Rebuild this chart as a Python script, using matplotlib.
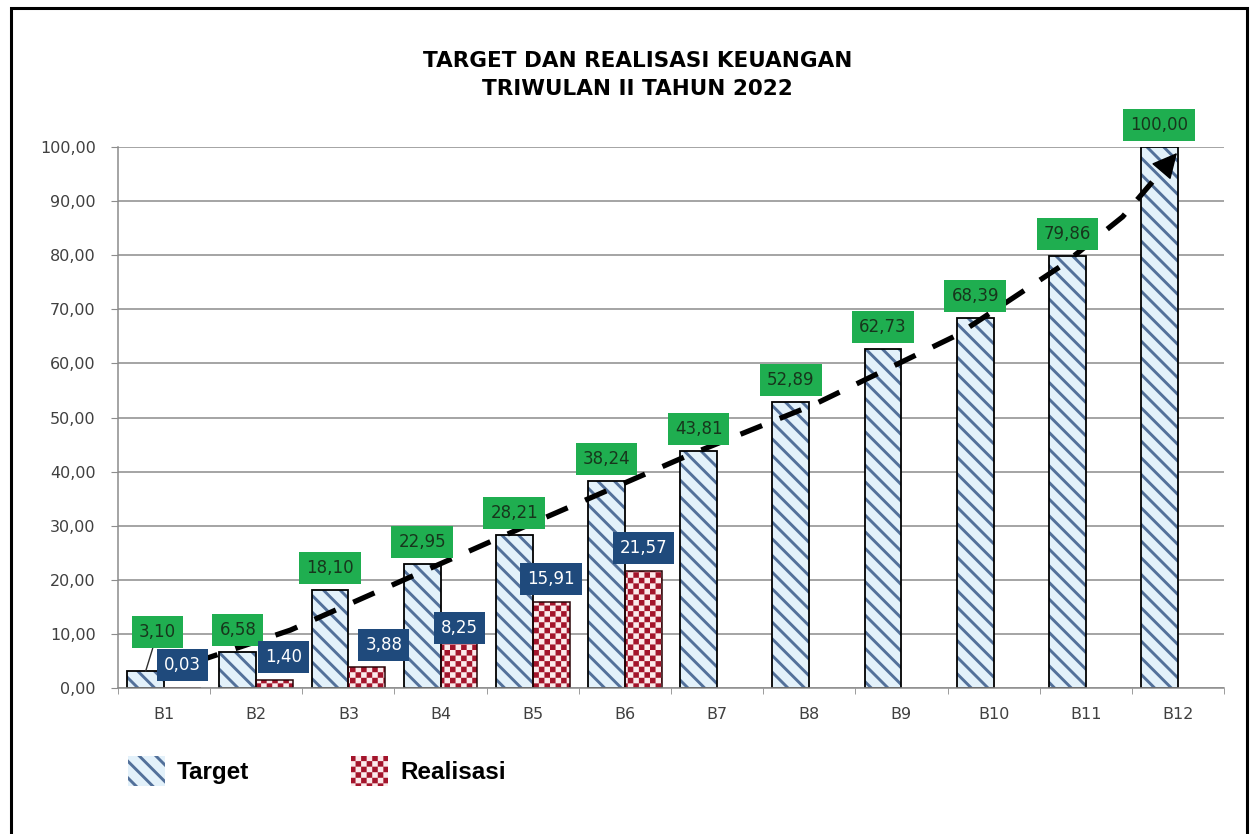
import numpy as np
import matplotlib.pyplot as plt
import matplotlib.hatch as mhatch
from matplotlib.path import Path
from matplotlib.patches import Patch, Rectangle
from matplotlib.ticker import FuncFormatter, FixedLocator

months = ["B1", "B2", "B3", "B4", "B5", "B6", "B7", "B8", "B9", "B10", "B11", "B12"]
target = [3.10, 6.58, 18.10, 22.95, 28.21, 38.24, 43.81, 52.89, 62.73, 68.39, 79.86, 100.00]
realisasi = [0.03, 1.40, 3.88, 8.25, 15.91, 21.57]

# hand drawn trend arrow (category index, value)
trend_x = [0.34, 1.37, 2.67, 4.08, 5.70, 7.04, 8.60, 9.75, 10.40, 10.99]
trend_y = [4.8, 10.7, 20.5, 31.1, 43.1, 52.3, 65.2, 78.2, 87.1, 98.9]

STRIPE = "#52709a"
STRIPE_BG = "#e3f1fa"
CHECK = "#a3142b"
CHECK_BG = "#fbeaeb"
GREEN = "#1fae50"
BLUE = "#1f4a7c"

plt.rcParams["hatch.linewidth"] = 2.1


# checkerboard hatch, hooked on the "O" hatch character
class CheckerHatch(mhatch.HatchPatternBase):
    def __init__(self, hatch, density):
        self.num_rows = 18 if "O" in hatch else 0
        self.num_vertices = (self.num_rows ** 2 // 2) * 5

    def set_vertices_and_codes(self, vertices, codes):
        n = self.num_rows
        s = 1.0 / n
        half = plt.rcParams["hatch.linewidth"] / 144
        sq = np.array([[half, half], [s - half, half], [s - half, s - half],
                       [half, s - half], [half, half]])
        k = 0
        for i in range(n):
            for j in range(n):
                if (i + j) % 2 == 0:
                    vertices[k:k + 5] = sq + [i * s, j * s]
                    codes[k:k + 5] = [Path.MOVETO, Path.LINETO, Path.LINETO,
                                      Path.LINETO, Path.CLOSEPOLY]
                    k += 5


mhatch._hatch_types = [t for t in mhatch._hatch_types
                       if t is not mhatch.LargeCircles] + [CheckerHatch]


def fmt(v):
    return f"{v:.2f}".replace(".", ",")


fig = plt.figure(figsize=(12.53, 8.34), dpi=100)
ax = fig.add_axes([118 / 1253, 1 - 688 / 834, 1106 / 1253, 541 / 834])

x = np.arange(len(months))
xr = x[:len(realisasi)]

ax.bar(x - 0.2, target, 0.4, color=STRIPE_BG, edgecolor=STRIPE, hatch="\\\\",
       linewidth=0, zorder=2)
ax.bar(x - 0.2, target, 0.4, fill=False, edgecolor="black", linewidth=1.3, zorder=2.1)
ax.bar(xr + 0.2, realisasi, 0.4, color=CHECK_BG, edgecolor=CHECK, hatch="O",
       linewidth=0, zorder=2)
ax.bar(xr + 0.2, realisasi, 0.4, fill=False, edgecolor="#2a0508", linewidth=1.1, zorder=2.1)

# trend arrow
tip = np.array([trend_x[-1], trend_y[-1]])
prev = np.array([trend_x[-2], trend_y[-2]])
base = tip + 0.25 * (prev - tip)
ax.plot(trend_x[:-1] + [base[0]], trend_y[:-1] + [base[1]], color="black",
        lw=3.8, ls=(0, (4.4, 3.6)), dash_capstyle="butt", zorder=3)
ax.annotate("", xy=tip, xytext=base,
            arrowprops=dict(arrowstyle="-|>,head_length=0.8,head_width=0.4",
                            mutation_scale=20, color="black", lw=1,
                            shrinkA=0, shrinkB=0), zorder=3)

# data labels (offsets in pixels)
green_off = {0: (12, 39)}
blue_off = {1: (9, 23), 2: (17, 22), 3: (0, 15)}
for i, v in enumerate(target):
    dx, dy = green_off.get(i, (0, 22))
    props = None
    if i in green_off:
        props = dict(arrowstyle="-", color="#303030", lw=1, shrinkA=0, shrinkB=0)
    ax.annotate(fmt(v), (i - 0.2, v), xytext=(dx * 0.72, dy * 0.72),
                textcoords="offset points", ha="center", va="center",
                fontsize=12, color="#17361c", zorder=5, arrowprops=props,
                bbox=dict(boxstyle="square,pad=0.42", fc=GREEN, ec="none"))
for i, v in enumerate(realisasi):
    dx, dy = blue_off.get(i, (0, 23))
    ax.annotate(fmt(v), (i + 0.2, v), xytext=(dx * 0.72, dy * 0.72),
                textcoords="offset points", ha="center", va="center",
                fontsize=12, color="white", zorder=5,
                bbox=dict(boxstyle="square,pad=0.42", fc=BLUE, ec="none"))

ax.set_xlim(-0.5, len(months) - 0.5)
ax.set_ylim(0, 100)
ax.set_yticks(np.arange(0, 101, 10))
ax.yaxis.set_major_formatter(FuncFormatter(lambda v, _: fmt(v)))
ax.set_xticks(x, months)
ax.xaxis.set_minor_locator(FixedLocator(np.arange(-0.5, len(months), 1)))
ax.tick_params(axis="x", which="major", length=0, pad=14, labelsize=11.5,
               labelcolor="#404040")
ax.tick_params(axis="x", which="minor", length=4, color="#8c8c8c", direction="out")
ax.tick_params(axis="y", length=5, color="#8c8c8c", pad=11, labelsize=11.5,
               labelcolor="#404040")
ax.grid(axis="y", color="#8c8c8c", lw=1.1)
ax.set_axisbelow(True)
for s in ["top", "right"]:
    ax.spines[s].set_visible(False)
for s in ["left", "bottom"]:
    ax.spines[s].set_color("#8c8c8c")
    ax.spines[s].set_linewidth(1.1)

fig.text(0.509, 1 - 75 / 834, "TARGET DAN REALISASI KEUANGAN\nTRIWULAN II TAHUN 2022",
         ha="center", va="center", fontsize=15.5, fontweight="bold", linespacing=1.45)

handles = [Patch(facecolor=STRIPE_BG, edgecolor=STRIPE, hatch="\\\\", lw=0),
           Patch(facecolor=CHECK_BG, edgecolor=CHECK, hatch="O", lw=0)]
fig.legend(handles, ["Target", "Realisasi"], loc="upper left",
           bbox_to_anchor=(128 / 1253, 1 - 756 / 834), ncol=2, frameon=False,
           prop=dict(family="Liberation Sans", weight="bold", size=17.5),
           handlelength=1.52, handleheight=1.52, handletextpad=0.5,
           columnspacing=4.2, borderpad=0, borderaxespad=0)

fig.patches.append(Rectangle((10.5 / 1253, -0.1), 1236 / 1253, 1.1 - 8 / 834,
                             transform=fig.transFigure, fill=False,
                             edgecolor="black", lw=2.2))

fig.savefig("out.png", dpi=100)
